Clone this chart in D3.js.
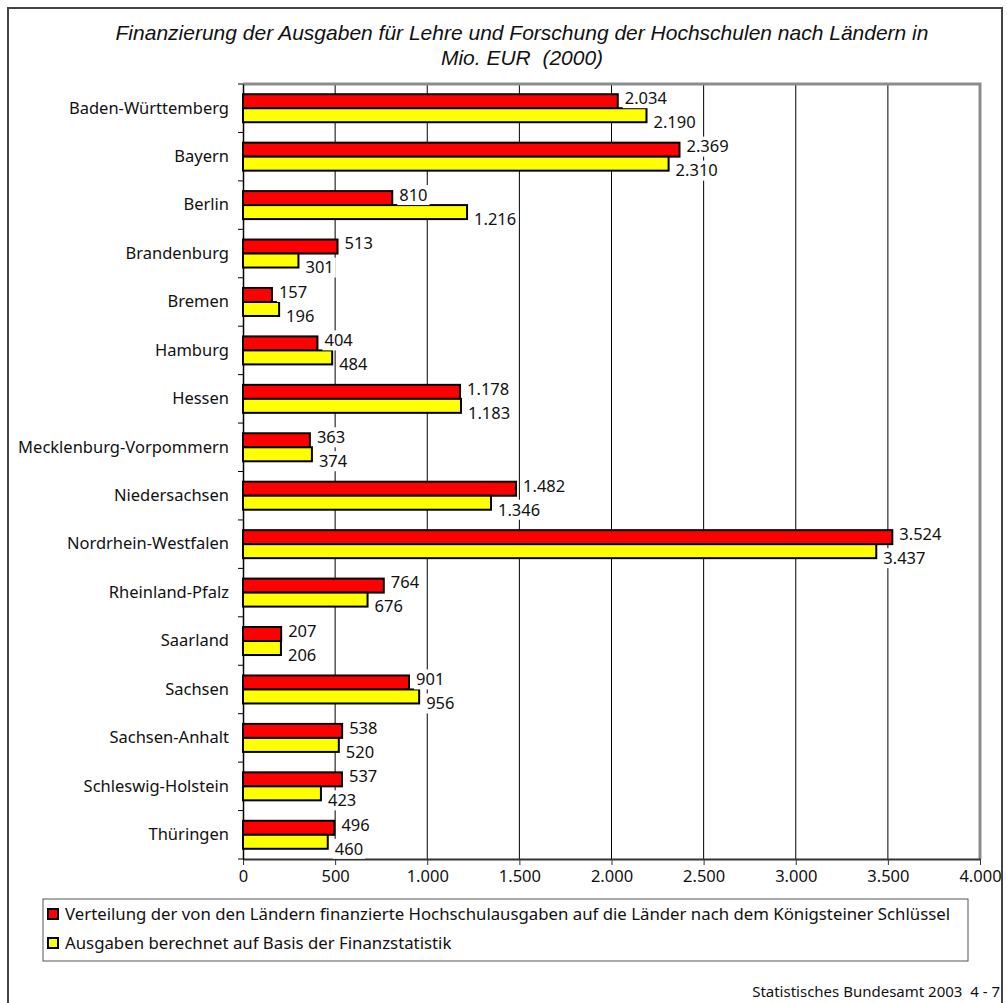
<!DOCTYPE html>
<html lang="de">
  <head>
    <meta charset="utf-8" />
    <title>Finanzierung der Hochschulen</title>
    <script src="https://cdnjs.cloudflare.com/ajax/libs/d3/7.8.5/d3.min.js"></script>
    <style>
      body { margin: 0; background: #fff; }
      text { font-family: "Noto Sans", sans-serif; fill: #111; }
    </style>
  </head>
  <body>
    <script>
      // Daten
      const laender = [
        "Baden-Württemberg", "Bayern", "Berlin", "Brandenburg", "Bremen", "Hamburg",
        "Hessen", "Mecklenburg-Vorpommern", "Niedersachsen", "Nordrhein-Westfalen",
        "Rheinland-Pfalz", "Saarland", "Sachsen", "Sachsen-Anhalt",
        "Schleswig-Holstein", "Thüringen"
      ];
      const koenigstein = [2034, 2369, 810, 513, 157, 404, 1178, 363, 1482, 3524, 764, 207, 901, 538, 537, 496];
      const finanzstatistik = [2190, 2310, 1216, 301, 196, 484, 1183, 374, 1346, 3437, 676, 206, 956, 520, 423, 460];
      const xTicks = [0, 500, 1000, 1500, 2000, 2500, 3000, 3500, 4000];
      const titelZeilen = [
        "Finanzierung der Ausgaben für Lehre und Forschung der Hochschulen nach Ländern in",
        "Mio. EUR  (2000)"
      ];
      const serienNamen = [
        "Verteilung der von den Ländern finanzierte Hochschulausgaben auf die Länder nach dem Königsteiner Schlüssel",
        "Ausgaben berechnet auf Basis der Finanzstatistik"
      ];
      const farben = ["#ff0000", "#ffff00"];

      const width = 1007;
      const height = 1003;
      const marginTop = 84;
      const marginBottom = 859;
      const marginLeft = 243;
      const marginRight = 980;
      const barH = 14;

      const de = d3.formatLocale({decimal: ",", thousands: ".", grouping: [3], currency: ["", " €"]});
      const fmt = de.format(",d");

      const svg = d3.select("body").append("svg")
        .attr("width", width)
        .attr("height", height);

      // Rahmen
      svg.append("rect")
        .attr("x", 8).attr("y", 8)
        .attr("width", 994).attr("height", 1010)
        .attr("fill", "none").attr("stroke", "#444").attr("stroke-width", 2);

      // Titel (zwei Zeilen)
      svg.append("g")
        .selectAll("text")
        .data(titelZeilen)
        .join("text")
        .attr("x", 522)
        .attr("y", (d, i) => 40 + i * 25)
        .attr("text-anchor", "middle")
        .style("font-family", "'Liberation Sans', sans-serif")
        .style("font-style", "italic")
        .style("font-size", "21px")
        .style("white-space", "pre")
        .text(d => d);

      const x = d3.scaleLinear([0, 4000], [marginLeft, marginRight]);
      const y = d3.scaleBand(laender, [marginTop, marginBottom]);

      // Gitterlinien
      svg.append("g")
        .selectAll("line")
        .data(xTicks.slice(1, -1))
        .join("line")
        .attr("x1", d => x(d)).attr("x2", d => x(d))
        .attr("y1", marginTop).attr("y2", marginBottom)
        .attr("stroke", "#000").attr("stroke-width", 1);

      // Plotrahmen oben / rechts
      svg.append("path")
        .attr("d", `M${marginLeft},${marginTop}H${marginRight}V${marginBottom}`)
        .attr("fill", "none").attr("stroke", "#8c8c8c").attr("stroke-width", 3);

      // x-Achse
      svg.append("g")
        .attr("transform", `translate(0,${marginBottom})`)
        .call(d3.axisBottom(x).tickValues(xTicks).tickFormat(d => fmt(d)).tickSize(6).tickSizeOuter(0).tickPadding(5))
        .call(g => g.select(".domain").attr("stroke", "#333").attr("stroke-width", 2))
        .call(g => g.selectAll(".tick line").attr("stroke", "#333"))
        .call(g => g.selectAll("text").attr("font-size", 16.5).attr("font-family", "Noto Sans").attr("fill", "#111"));

      // y-Achse mit Trennstrichen zwischen den Ländern
      svg.append("g")
        .attr("transform", `translate(${marginLeft},0)`)
        .call(d3.axisLeft(y).tickSize(0).tickPadding(14))
        .call(g => g.select(".domain").attr("stroke", "#000").attr("stroke-width", 1.5))
        .call(g => g.selectAll("text").attr("font-size", 16.5).attr("font-family", "Noto Sans").attr("fill", "#111"));
      svg.append("g")
        .selectAll("line")
        .data(laender)
        .join("line")
        .attr("x1", marginLeft - 5).attr("x2", marginLeft)
        .attr("y1", d => y(d)).attr("y2", d => y(d))
        .attr("stroke", "#000");
      svg.append("line")
        .attr("x1", marginLeft - 5).attr("x2", marginLeft)
        .attr("y1", marginBottom).attr("y2", marginBottom)
        .attr("stroke", "#000");

      const reihen = [koenigstein, finanzstatistik];

      // Balken
      reihen.forEach((werte, s) => {
        svg.append("g")
          .selectAll("rect")
          .data(laender)
          .join("rect")
          .attr("x", x(0))
          .attr("y", d => y(d) + y.bandwidth() / 2 - barH + s * barH)
          .attr("width", (d, i) => x(werte[i]) - x(0))
          .attr("height", barH)
          .attr("fill", farben[s])
          .attr("stroke", "#000")
          .attr("stroke-width", 2);
      });

      // Wertelabels mit weißem Hintergrund
      reihen.forEach((werte, s) => {
        const g = svg.append("g")
          .selectAll("g")
          .data(laender)
          .join("g")
          .attr("transform", (d, i) => {
            const cy = y(d) + y.bandwidth() / 2 - barH / 2 + s * barH + (s === 0 ? -3 : 7);
            return `translate(${x(werte[i]) + 7},${cy})`;
          });
        g.append("rect")
          .attr("x", -2).attr("y", -10)
          .attr("height", 20)
          .attr("fill", "#fff");
        g.append("text")
          .attr("dy", "0.35em")
          .attr("font-size", 16.5)
          .text((d, i) => fmt(werte[i]));
        g.each(function() {
          const w = d3.select(this).select("text").node().getComputedTextLength();
          d3.select(this).select("rect").attr("width", w + 4);
        });
      });

      // Legende
      svg.append("rect")
        .attr("x", 43).attr("y", 899)
        .attr("width", 925).attr("height", 62)
        .attr("fill", "#fff").attr("stroke", "#555").attr("stroke-width", 1);
      const leg = svg.append("g")
        .selectAll("g")
        .data(serienNamen)
        .join("g")
        .attr("transform", (d, i) => `translate(48,${909 + i * 29})`);
      leg.append("rect")
        .attr("width", 10).attr("height", 10)
        .attr("fill", (d, i) => farben[i])
        .attr("stroke", "#000").attr("stroke-width", 2);
      leg.append("text")
        .attr("x", 17).attr("y", 5)
        .attr("dy", "0.35em")
        .attr("font-size", 16.8)
        .text(d => d);

      // Quelle
      svg.append("text")
        .attr("x", 1000).attr("y", 997)
        .attr("text-anchor", "end")
        .attr("font-size", 15)
        .style("white-space", "pre")
        .text("Statistisches Bundesamt 2003  4 - 7");
    </script>
  </body>
</html>
